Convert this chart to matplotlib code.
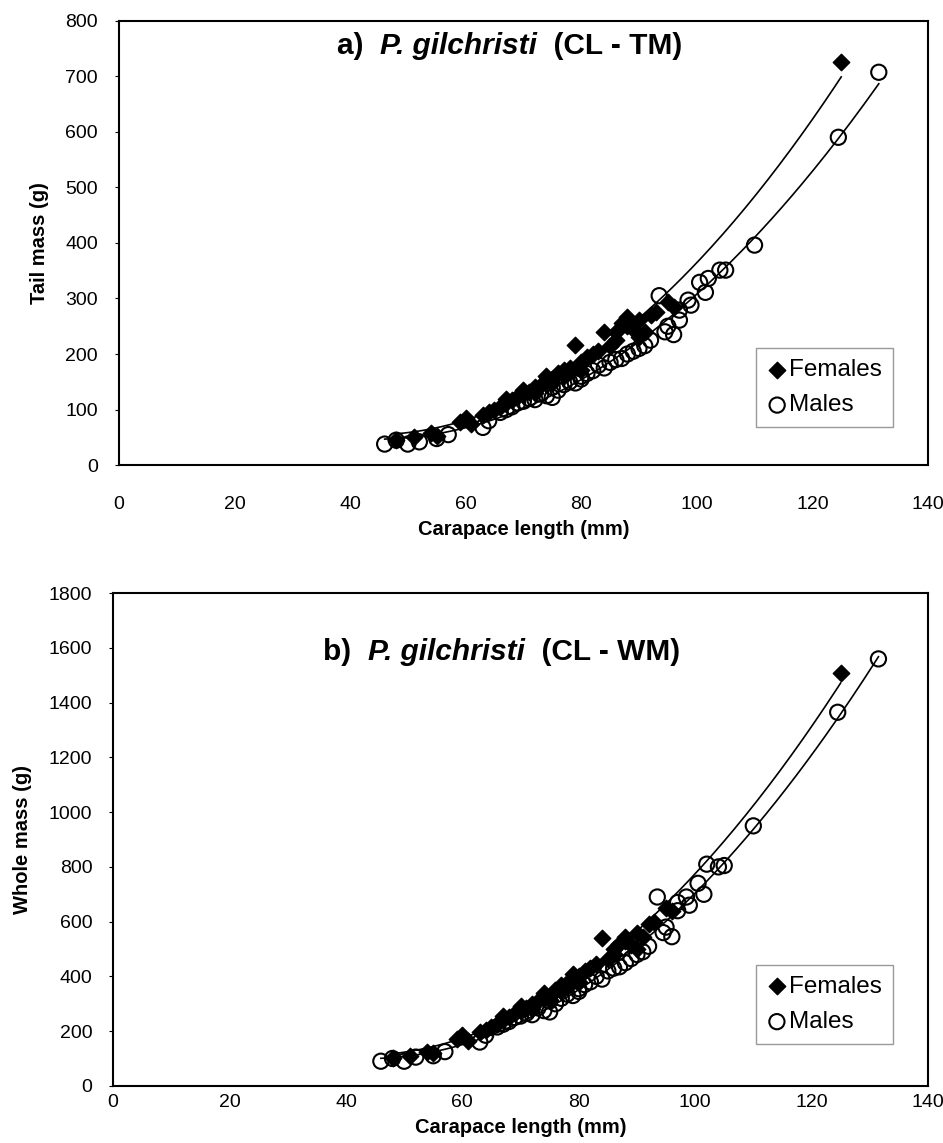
import numpy as np
import matplotlib
matplotlib.use('Agg')
import matplotlib.pyplot as plt

plt.rcParams['font.family'] = ['Liberation Sans', 'DejaVu Sans']

# carapace length (mm), same animals in both panels
fem_cl = [48, 51, 54, 55, 59, 60, 61, 63, 64, 65, 66, 67, 67, 68, 69, 70, 70, 71, 72, 72,
          73, 74, 74, 75, 75, 76, 77, 77, 78, 78, 79, 80, 80, 81, 82, 83, 84, 85, 86, 86,
          87, 88, 88, 89, 90, 90, 91, 92, 93, 95, 96, 125]
male_cl = [46, 48, 50, 52, 55, 57, 63, 64, 66, 67, 68, 69, 70, 71, 72, 73, 74, 75, 75, 76,
           77, 78, 79, 80, 80, 81, 82, 83, 84, 85, 86, 87, 88, 89, 90, 91, 92, 93.5, 94.5, 95,
           96, 97, 97, 98.5, 99, 100.5, 101.5, 102, 104, 105, 110, 124.5, 131.5]

# tail mass (g)
fem_tm = [45, 50, 58, 52, 78, 85, 75, 90, 95, 100, 105, 112, 120, 118, 125, 128, 135, 132, 140, 130,
          145, 150, 160, 155, 148, 165, 160, 172, 175, 168, 216, 185, 172, 195, 200, 205, 239, 215, 225, 240,
          255, 266, 250, 245, 230, 262, 240, 270, 275, 293, 285, 725]
male_tm = [38, 45, 38, 42, 48, 55, 68, 80, 95, 100, 105, 112, 115, 120, 118, 128, 125, 140, 122, 135,
           145, 150, 148, 160, 155, 165, 170, 180, 175, 185, 190, 192, 200, 205, 210, 215, 225, 305, 240, 250,
           235, 261, 279, 297, 288, 329, 311, 336, 351, 351, 396, 590, 707]

# whole mass (g)
fem_wm = [100, 110, 125, 120, 170, 185, 165, 195, 205, 215, 225, 240, 255, 250, 265, 275, 290, 285, 300, 280,
          310, 320, 340, 330, 315, 350, 345, 370, 375, 360, 410, 400, 380, 420, 430, 445, 540, 465, 480, 500,
          520, 545, 530, 515, 500, 560, 545, 590, 600, 650, 640, 1510]
male_wm = [90, 100, 90, 105, 110, 125, 160, 185, 215, 225, 235, 250, 255, 265, 260, 285, 275, 310, 270, 300,
           320, 335, 330, 355, 345, 370, 380, 400, 390, 420, 430, 435, 450, 465, 480, 490, 510, 690, 560, 580,
           545, 640, 670, 690, 660, 740, 700, 810, 800, 805, 950, 1365, 1560]


def trend(ax, x, y):
    # 2nd order polynomial trendline, least squares on the raw values
    x = np.asarray(x, dtype=float)
    y = np.asarray(y, dtype=float)
    coef = np.polyfit(x, y, 2)
    xs = np.linspace(x.min(), x.max(), 200)
    ax.plot(xs, np.polyval(coef, xs), color='black', lw=1.2, zorder=2)


def title(ax, x, y, label, formula):
    t1 = ax.text(x, y, label + '  ', transform=ax.transAxes, fontsize=21.5,
                 fontweight='bold', va='baseline')
    t2 = ax.annotate('P. gilchristi', xy=(1, 0), xycoords=t1, fontsize=21.5,
                     fontweight='bold', fontstyle='italic', va='bottom')
    ax.annotate('  ' + formula, xy=(1, 0), xycoords=t2, fontsize=21.5,
                fontweight='bold', va='bottom')


def panel(ax, yf, ym, ymax, ystep, ylabel, label, formula, xpad):
    ax.scatter(fem_cl, yf, marker='D', s=70, color='black', zorder=3, label='Females')
    ax.scatter(male_cl, ym, marker='o', s=120, facecolors='none', edgecolors='black',
               linewidths=1.5, zorder=3, label='Males')
    trend(ax, fem_cl, yf)
    trend(ax, male_cl, ym)

    ax.set_xlim(0, 140)
    ax.set_ylim(0, ymax)
    ax.set_xticks(np.arange(0, 141, 20))
    ax.set_yticks(np.arange(0, ymax + 1, ystep))
    ax.tick_params(axis='y', direction='out', length=3, width=0.8, labelsize=14, pad=12)
    ax.tick_params(axis='x', direction='out', length=0, labelsize=14, pad=xpad)
    for s in ax.spines.values():
        s.set_linewidth(1.5)
        s.set_color('black')
    ax.set_xlabel('Carapace length (mm)', fontsize=14.5, fontweight='bold', labelpad=5)
    ax.set_ylabel(ylabel, fontsize=14.5, fontweight='bold', labelpad=12)

    leg = ax.legend(loc='lower right', bbox_to_anchor=(0.957, 0.085), fontsize=17.5,
                    handletextpad=0.1, handlelength=0.8, borderpad=0.45, labelspacing=0.55,
                    fancybox=False, framealpha=1, borderaxespad=0)
    leg.get_frame().set_edgecolor('#999999')
    leg.get_frame().set_linewidth(1.0)
    title(ax, *label_pos[label], label, formula)


label_pos = {'a)': (0.27, 0.925), 'b)': (0.258, 0.865)}

fig = plt.figure(figsize=(9.43, 11.43), dpi=100)
ax1 = fig.add_axes([0.126, 0.593, 0.858, 0.389])
ax2 = fig.add_axes([0.120, 0.050, 0.864, 0.431])

panel(ax1, fem_tm, male_tm, 800, 100, 'Tail mass (g)', 'a)', '(CL - TM)', 22)
panel(ax2, fem_wm, male_wm, 1800, 200, 'Whole mass (g)', 'b)', '(CL - WM)', 6)

fig.savefig('out.png', dpi=100)
